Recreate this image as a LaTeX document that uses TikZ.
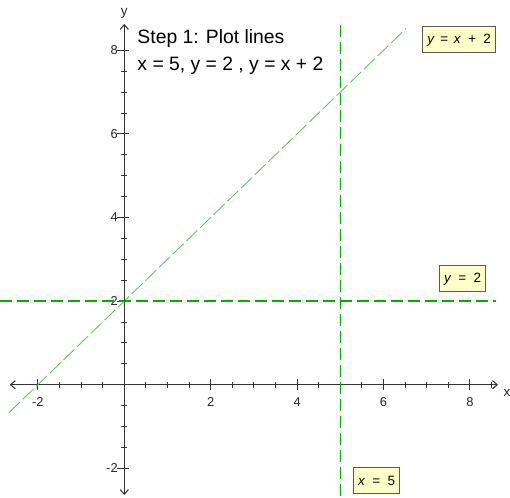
\documentclass[tikz,border=0pt]{standalone}
\usepackage{fontspec}
\setmainfont{Liberation Sans}
\usetikzlibrary{arrows.meta, positioning}

\definecolor{plotgreen}{RGB}{0,175,0}
\definecolor{diaggreen}{RGB}{90,190,90}
\definecolor{lblfill}{RGB}{255,255,200}

\begin{document}
\begin{tikzpicture}[
    x=1.296cm, y=1.254cm,
    axis/.style={draw=black!80, line width=0.9pt, {Straight Barb[length=4pt, width=7pt]}-{Straight Barb[length=4pt, width=7pt]}},
    tick/.style={draw=black!80, line width=0.8pt},
    ticklbl/.style={font=\fontsize{11}{12}\selectfont, text=black!85, inner sep=1pt},
    gline/.style={draw=plotgreen, line width=1.2pt, dash pattern=on 0.36cm off 0.15cm},
    gdiag/.style={draw=diaggreen, line width=0.7pt, dash pattern=on 0.45cm off 0.12cm},
    lbl/.style={rectangle, draw=black!65, line width=0.8pt, fill=lblfill, minimum height=0.78cm, inner xsep=4pt, font=\fontsize{11.5}{12}\selectfont}
]
    \useasboundingbox (-2.877,-2.687) rectangle (8.928,9.203);

    % axes
    \coordinate (xl) at (-2.65,0);
    \coordinate (xr) at (8.65,0);
    \coordinate (yb) at (0,-2.64);
    \coordinate (yt) at (0,8.63);
    \draw [axis] (xl) -- (xr);
    \draw [axis] (yb) -- (yt);
    \node (xname) [font=\fontsize{11.5}{12}\selectfont, text=black!85] at (8.86,-0.2) {x};
    \node (yname) [font=\fontsize{11.5}{12}\selectfont, text=black!85] at (0,8.89) {y};

    % ticks
    \foreach \t in {-2,-1.5,...,8.5}
        \draw [tick] (\t,-0.07) -- (\t,0.07);
    \foreach \t in {-2,2,4,6,8}
        \draw [tick] (\t,-0.13) -- (\t,0.13);
    \foreach \t in {-2,-1.5,...,8}
        \draw [tick] (-0.07,\t) -- (0.07,\t);
    \foreach \t in {-2,2,4,6,8}
        \draw [tick] (-0.16,\t) -- (0.1,\t);
    \foreach \t in {-2,2,4,6,8}
        \node (xt\t) [ticklbl] at (\t,-0.42) {\t};
    \foreach \t in {-2,2,4,6,8}
        \node (yt\t) [ticklbl, left] at (-0.12,\t) {\t};

    % lines
    \coordinate (v1) at (5,8.6);
    \coordinate (v2) at (5,-2.69);
    \coordinate (h1) at (-2.877,2);
    \coordinate (h2) at (8.6,2);
    \coordinate (d1) at (-2.67,-0.67);
    \coordinate (d2) at (6.52,8.52);
    \draw [gdiag] (d1) -- (d2);
    \draw [gline] (h1) -- (h2);
    \draw [gline] (v1) -- (v2);

    % labels
    \node (lblxy) [lbl] at (7.75,8.25) {\itshape y\,\ =\ \,x\ \ +\ \ \upshape 2};
    \node (lbly) [lbl] at (7.83,2.53) {\itshape y\upshape\ \ =\ \ 2};
    \node (lblx) [lbl] at (5.84,-2.29) {\itshape x\upshape\ \ =\ \ 5};

    \node (title) [anchor=north west, align=left, inner sep=0pt, font=\fontsize{16.5}{23}\selectfont] at (0.3,8.5) {Step 1: Plot lines\\x = 5, y = 2 , y = x + 2};
\end{tikzpicture}
\end{document}
